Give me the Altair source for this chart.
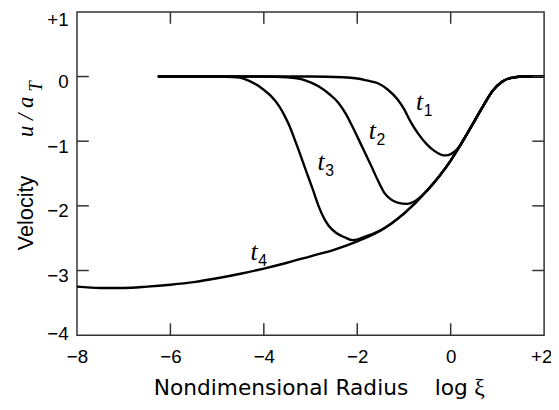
import altair as alt
import pandas as pd

# ---------------- data ----------------
x_ticks = [-8, -6, -4, -2, 0, 2]
y_ticks = [-4, -3, -2, -1, 0, 1]
x_inner_ticks = [-6, -4, -2, 0]
y_inner_ticks = [-3, -2, -1, 0]

t4_x = [-8, -7.5, -7, -6.5, -6, -5.5, -5, -4.5, -4, -3.5, -3, -2.5, -2, -1.5, -1, -0.5, 0, 0.3, 0.5, 0.7, 0.9, 1.1, 1.3, 1.6, 2.0]
t4_y = [-3.25, -3.27, -3.27, -3.25, -3.22, -3.18, -3.12, -3.05, -2.97, -2.88, -2.78, -2.68, -2.55, -2.38, -2.12, -1.76, -1.30, -0.95, -0.70, -0.45, -0.22, -0.08, -0.02, 0.0, 0.0]

t1_x = [-6.27, -5, -4, -3, -2.3, -2.0, -1.8, -1.57, -1.35, -1.14, -1.0, -0.85, -0.7, -0.51, -0.35, -0.2, -0.1, 0.0, 0.1, 0.2, 0.3, 0.5, 0.7, 0.9, 1.1, 1.3, 1.6, 2.0]
t1_y = [0, 0, 0, 0, -0.01, -0.03, -0.06, -0.10, -0.20, -0.35, -0.50, -0.71, -0.88, -1.05, -1.15, -1.21, -1.22, -1.20, -1.15, -1.07, -0.95, -0.70, -0.45, -0.22, -0.08, -0.02, 0.0, 0.0]

t2_x = [-6.27, -5, -4, -3.5, -3.2, -3.0, -2.83, -2.6, -2.41, -2.25, -2.12, -1.9, -1.69, -1.55, -1.42, -1.28, -1.14, -0.93, -0.8, -0.64, -0.5, 0, 0.3, 0.5, 0.7, 0.9, 1.1, 1.3, 1.6, 2.0]
t2_y = [0, 0, 0, -0.01, -0.04, -0.09, -0.15, -0.27, -0.40, -0.57, -0.75, -1.08, -1.40, -1.62, -1.80, -1.90, -1.95, -1.97, -1.94, -1.86, -1.76, -1.30, -0.95, -0.70, -0.45, -0.22, -0.08, -0.02, 0.0, 0.0]

t3_x = [-6.27, -5, -4.58, -4.3, -4.01, -3.85, -3.68, -3.56, -3.46, -3.3, -3.1, -2.95, -2.83, -2.72, -2.62, -2.45, -2.26, -2.1, -1.99, -1.85, -1.69, -1.5, -1, -0.5, 0, 0.3, 0.5, 0.7, 0.9, 1.1, 1.3, 1.6, 2.0]
t3_y = [0, 0, -0.01, -0.07, -0.20, -0.30, -0.45, -0.60, -0.75, -1.05, -1.45, -1.75, -2.00, -2.18, -2.30, -2.42, -2.49, -2.53, -2.52, -2.48, -2.44, -2.38, -2.12, -1.76, -1.30, -0.95, -0.70, -0.45, -0.22, -0.08, -0.02, 0.0, 0.0]

label_x = [-0.743, -1.755, -2.852, -4.287]
label_y = [-0.524, -0.973, -1.452, -2.844]
label_sub = ["1", "2", "3", "4"]

# ---------------- build tables ----------------
rows = []
for name, xs_, ys_ in [("t1", t1_x, t1_y), ("t2", t2_x, t2_y), ("t3", t3_x, t3_y), ("t4", t4_x, t4_y)]:
    for i, (a, b) in enumerate(zip(xs_, ys_)):
        rows.append({"curve": name, "x": a, "y": b, "i": i})
curves = pd.DataFrame(rows)
labels = pd.DataFrame({"x": label_x, "y": label_y, "sub": label_sub})
xt = pd.DataFrame({"x": x_inner_ticks})
yt = pd.DataFrame({"y": y_inner_ticks})

W, H = 474, 328
OX, OY = 78, 9  # page position of plot origin

xscale = alt.Scale(domain=[-8, 2], nice=False, zero=False)
yscale = alt.Scale(domain=[-4, 1], nice=False, zero=False)
label_expr = "datum.value > 0 ? '+' + datum.label : datum.label"
x_axis = alt.Axis(values=x_ticks, title=None, domain=False, ticks=False, tickSize=0, grid=False,
                  labelFont="Liberation Sans", labelFontSize=19, labelColor="#000",
                  labelPadding=13, labelFlush=False, labelExpr=label_expr,
                  labelOffset={"condition": {"test": "datum.value == 2", "value": -3}, "value": 0})
y_axis = alt.Axis(values=y_ticks, title=None, domain=False, ticks=False, tickSize=0, grid=False,
                  labelFont="Liberation Sans", labelFontSize=19, labelColor="#000",
                  labelPadding=9, labelFlush=False, labelExpr=label_expr,
                  labelOffset={"expr": "datum.value == 1 ? 8 : (datum.value == -4 ? -2 : 5)"})
X = alt.X("x:Q", scale=xscale, axis=x_axis)
Y = alt.Y("y:Q", scale=yscale, axis=y_axis)

lines = alt.Chart(curves).mark_line(interpolate="monotone", color="black", strokeWidth=2.4).encode(
    x=X, y=Y, detail="curve:N", order="i:Q")

t_text = alt.Chart(labels).mark_text(text="t", font="Liberation Serif", fontStyle="italic", fontSize=26,
                                     align="left", baseline="alphabetic", color="black").encode(x=X, y=Y)
sub_text = alt.Chart(labels).mark_text(font="Liberation Sans", fontSize=16, align="left",
                                       baseline="alphabetic", dx=8, dy=6, color="black").encode(
    x=X, y=Y, text="sub:N")

tick_style = dict(color="#333", strokeWidth=1.5)
left_ticks = alt.Chart(yt).mark_rule(**tick_style).encode(y=Y, x=alt.value(0), x2=alt.value(12))
right_ticks = alt.Chart(yt).mark_rule(**tick_style).encode(y=Y, x=alt.value(W - 12), x2=alt.value(W))
top_ticks = alt.Chart(xt).mark_rule(**tick_style).encode(x=X, y=alt.value(0), y2=alt.value(12))
bottom_ticks = alt.Chart(xt).mark_rule(**tick_style).encode(x=X, y=alt.value(H - 12), y2=alt.value(H))


def ptext(txt, px, py, **kw):
    return alt.Chart(pd.DataFrame({"t": [txt]})).mark_text(color="black", **kw).encode(
        x=alt.value(px - OX), y=alt.value(py - OY), text="t:N")


titles = [
    ptext("Nondimensional Radius", 156, 398, font="DejaVu Sans", fontSize=22, align="left", baseline="alphabetic"),
    ptext("log", 441, 398, font="DejaVu Sans", fontSize=22, align="left", baseline="alphabetic"),
    ptext("ξ", 481, 398, font="Liberation Serif", fontSize=24, align="left", baseline="alphabetic"),
    ptext("Velocity", 33, 213, font="Liberation Sans", fontSize=22, angle=270, align="center", baseline="alphabetic"),
    ptext("u / a", 33, 136, font="Liberation Serif", fontStyle="italic", fontSize=23, angle=270, align="left", baseline="alphabetic"),
    ptext("T", 42, 90, font="Liberation Serif", fontStyle="italic", fontSize=19, angle=270, align="left", baseline="alphabetic"),
]

chart = alt.layer(
    lines, left_ticks, right_ticks, top_ticks, bottom_ticks, t_text, sub_text, *titles
).properties(
    width=W, height=H,
    autosize=alt.AutoSizeParams(type="none"),
    padding={"left": 70, "top": 1, "right": 7, "bottom": 73},
    background="white",
).configure_view(stroke="#333", strokeWidth=1.5)

chart.save("out.html", embed_options={"renderer": "svg", "actions": False})
